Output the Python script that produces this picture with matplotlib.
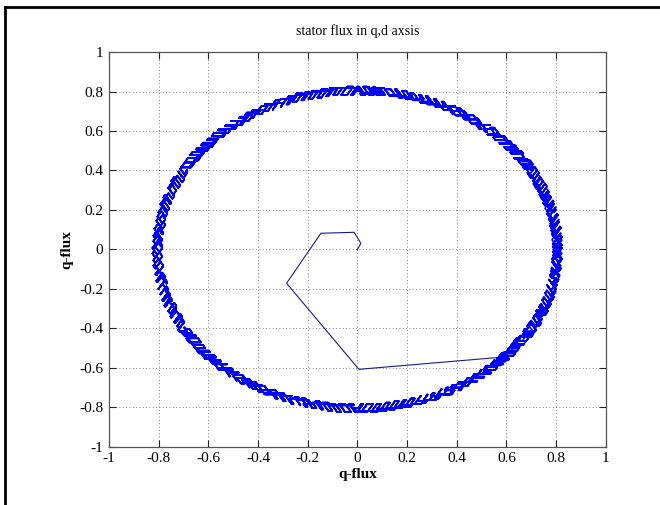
import numpy as np
import matplotlib
matplotlib.use('Agg')
import matplotlib.pyplot as plt
from matplotlib.lines import Line2D

plt.rcParams['font.family'] = ['Liberation Serif', 'DejaVu Serif']
plt.rcParams['axes.unicode_minus'] = False

# start-up part of the trajectory (d, q)
startup_d = [0.0, 0.014, -0.013, -0.147, -0.285, 0.006, 0.567]
startup_q = [0.0, 0.031, 0.087, 0.082, -0.171, -0.607, -0.547]

# steady state: hysteresis controlled flux circle
flux_ref = 0.805
flux_band = 0.017
torque_band = 0.014     # rad
vec_step = 0.008        # flux change per sample
omega_ref = 0.0021      # rad per sample
n_samples = 12000

ticks = [-1, -0.8, -0.6, -0.4, -0.2, 0, 0.2, 0.4, 0.6, 0.8, 1]
tick_labels = ['-1', '-0.8', '-0.6', '-0.4', '-0.2', '0', '0.2', '0.4', '0.6', '0.8', '1']


def dtc_locus(psi0):
    vecs = np.exp(1j * np.pi / 3 * np.arange(6))
    psi = psi0
    theta_ref = np.angle(psi0)
    inc = True
    fwd = True
    pts = [psi]
    for _ in range(n_samples):
        mag = abs(psi)
        ang = np.angle(psi)
        if mag < flux_ref - flux_band:
            inc = True
        elif mag > flux_ref + flux_band:
            inc = False
        err = np.angle(np.exp(1j * (theta_ref - ang)))
        if err > torque_band:
            fwd = True
        elif err < -torque_band:
            fwd = False
        k = int(np.floor((ang + np.pi / 6) / (np.pi / 3))) % 6
        if fwd:
            n = k + 1 if inc else k + 2
        else:
            n = k - 1 if inc else k - 2
        psi = psi + vec_step * vecs[n % 6]
        theta_ref += omega_ref
        pts.append(psi)
    return np.array(pts)


locus = dtc_locus(complex(startup_d[-1], startup_q[-1]))

fig = plt.figure(figsize=(6.6, 5.05), dpi=100, facecolor='white')
ax = fig.add_axes([0.165, 0.115, 0.753, 0.782])

ax.plot(startup_d, startup_q, color='#1a1a8c', linewidth=0.8)
ax.plot(locus.real, locus.imag, color='#0000ff', linewidth=1.1)

ax.set_xlim(-1, 1)
ax.set_ylim(-1, 1)
ax.set_xticks(ticks)
ax.set_xticklabels(tick_labels)
ax.set_yticks(ticks)
ax.set_yticklabels(tick_labels)
ax.tick_params(direction='in', length=5, top=True, right=True, labelsize=11,
               color='#222222', pad=4)
ax.grid(True, linestyle=(0, (1, 3)), color='#555555', linewidth=0.6)
for s in ax.spines.values():
    s.set_color('#555555')
    s.set_linewidth(0.9)

ax.set_title('stator flux in q,d axsis', fontsize=10, pad=12)
ax.set_xlabel('q-flux', fontsize=11, fontweight='bold', labelpad=2)
ax.set_ylabel('q-flux', fontsize=11, fontweight='bold', labelpad=4)

# frame around the figure (left and top edges)
fig.add_artist(Line2D([0.008, 0.008], [0, 0.986], color='black', linewidth=2,
                      transform=fig.transFigure))
fig.add_artist(Line2D([0.008, 1], [0.986, 0.986], color='black', linewidth=2,
                      transform=fig.transFigure))

fig.savefig('out.png', dpi=100, facecolor='white')
